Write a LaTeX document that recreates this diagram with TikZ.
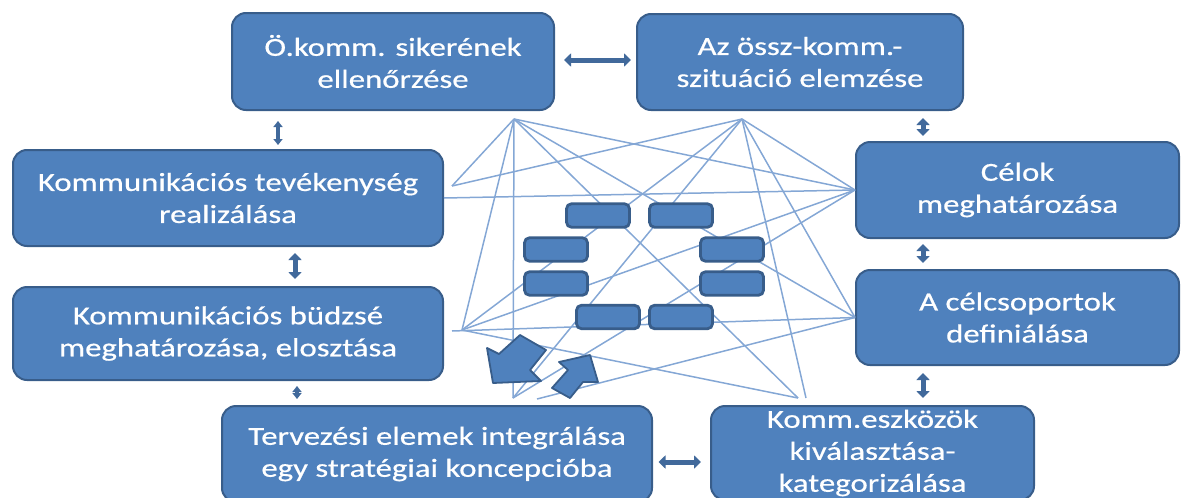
\documentclass[tikz,border=0pt]{standalone}
\usepackage{fontspec}
\setmainfont{Carlito}[FakeStretch=1.26,FakeBold=0.6]
\usetikzlibrary{arrows.meta}
\definecolor{boxfill}{HTML}{4F81BD}
\definecolor{boxline}{HTML}{385D8A}
\definecolor{webline}{HTML}{84A7D5}
\definecolor{arrowc}{HTML}{41699B}

\begin{document}
\begin{tikzpicture}[x=1pt,y=-1pt,
  bigbox/.style={draw=boxline, line width=2pt, fill=boxfill, rounded corners=14pt,
    text=white, align=center, inner sep=0pt, font=\fontsize{26}{32}\selectfont},
  smallbox/.style={draw=boxline, line width=2.8pt, fill=boxfill, rounded corners=5pt,
    minimum width=63pt, minimum height=23.5pt, inner sep=0pt},
  web/.style={draw=webline, line width=1.5pt},
  dbl/.style={draw=arrowc, line width=5pt,
    {Triangle[width=13pt,length=7pt]}-{Triangle[width=13pt,length=7pt]}},
  dblsmall/.style={draw=arrowc, line width=3.5pt,
    {Triangle[width=9pt,length=6pt]}-{Triangle[width=9pt,length=6pt]}},
  blockarrow/.style={draw=boxline, line width=1.8pt, fill=boxfill, line join=round}
]
\useasboundingbox (0,0) rectangle (1181,498);
\begin{scope}
\clip (0,0) rectangle (1181,498);

% main planning steps
\node[bigbox, minimum width=322pt, minimum height=97pt] (b1) at (393,61.5)
  {Ö.komm. sikerének\\ellenőrzése};
\node[bigbox, minimum width=326pt, minimum height=96pt] (b2) at (800,62)
  {Az össz-komm.-\\szituáció elemzése};
\node[bigbox, minimum width=430pt, minimum height=96pt] (b3) at (228,198)
  {Kommunikációs tevékenység\\realizálása};
\node[bigbox, minimum width=430pt, minimum height=93pt] (b4) at (228,333.5)
  {Kommunikációs büdzsé\\meghatározása, elosztása};
\node[bigbox, minimum width=430pt, minimum height=96pt] (b5) at (437,454)
  {Tervezési elemek integrálása\\egy stratégiai koncepcióba};
\node[bigbox, minimum width=323pt, minimum height=94pt] (b6) at (872.5,453)
  {Komm.eszközök\\kiválasztása-\\kategorizálása};
\node[bigbox, minimum width=323pt, minimum height=96pt] (b7) at (1017.5,190)
  {Célok\\meghatározása};
\node[bigbox, minimum width=323pt, minimum height=95pt] (b8) at (1017.5,317.5)
  {A célcsoportok\\definiálása};

% meeting points of the connection web
\coordinate (p1) at (514,119);
\coordinate (p2) at (742,119);
\coordinate (p3) at (452,186);
\coordinate (p4) at (462,330);
\coordinate (p4b) at (452,331);
\coordinate (p7) at (513,398);
\coordinate (p7b) at (537,399);
\coordinate (p8) at (798,398);
\coordinate (p8b) at (806,398);

% connection web between the steps
\draw[web] (p1) -- (p3);
\draw[web] (p1) -- (p4);
\draw[web] (p1) -- (p7);
\draw[web] (p1) -- (b7.west);
\draw[web] (p1) -- (b8.west);
\draw[web] (p1) -- (p8);
\draw[web] (p2) -- (p3);
\draw[web] (p2) -- (p4);
\draw[web] (p2) -- (p7);
\draw[web] (p2) -- (p8b);
\draw[web] (p2) -- (b8.west);
\draw[web] (p2) -- (b7.west);
\draw[web] (b3.east) -- (b7.west);
\draw[web] (b7.west) -- (p4);
\draw[web] (b7.west) -- (p7);
\draw[web] (b8.west) -- (p7b);
\draw[web] (b8.west) -- (p4b);
\draw[web] (p4) -- (p8);

% small element boxes
\node[smallbox] (sa) at (598,215.5) {};
\node[smallbox] (sb) at (681,215.5) {};
\node[smallbox] (sc) at (556,249.5) {};
\node[smallbox] (sd) at (556,283.5) {};
\node[smallbox] (se) at (732,249.5) {};
\node[smallbox] (sf) at (732,283.5) {};
\node[smallbox] (sg) at (608,317) {};
\node[smallbox] (sh) at (681,317) {};

% the two block arrows
\draw[blockarrow] (493,383) -- (487,348) -- (499,354) -- (520,335)
  -- (546,350) -- (530,370) -- (541,381) -- cycle;
\draw[blockarrow] (590,355) -- (559,362) -- (568,370) -- (552,388)
  -- (570,398) -- (583,382) -- (598,382) -- cycle;

% double arrows between the steps
\coordinate (xa) at (923,0);
\coordinate (xb) at (278,0);
\coordinate (xc) at (295,0);
\coordinate (xd) at (297,0);
\coordinate (ya) at (0,60);
\coordinate (yb) at (0,462);
\draw[dbl, shorten <=9pt, shorten >=5pt] (b1.east |- ya) -- (b2.west |- ya);
\draw[dbl, shorten <=7pt, shorten >=5pt] (b2.south -| xa) -- (b7.north -| xa);
\draw[dbl, shorten <=5pt, shorten >=6pt] (b7.south -| xa) -- (b8.north -| xa);
\draw[dbl, shorten <=7pt, shorten >=7pt] (b8.south -| xa) -- (b6.north -| xa);
\draw[dbl, shorten <=9pt, shorten >=5.5pt] (b6.west |- yb) -- (b5.east |- yb);
\draw[dblsmall, shorten <=10pt, shorten >=4pt] (b1.south -| xb) -- (b3.north -| xb);
\draw[dbl, shorten <=6pt, shorten >=7pt] (b3.south -| xc) -- (b4.north -| xc);
\draw[dblsmall, shorten <=5pt, shorten >=6pt] (b4.south -| xd) -- (b5.north -| xd);
\end{scope}
\end{tikzpicture}
\end{document}
